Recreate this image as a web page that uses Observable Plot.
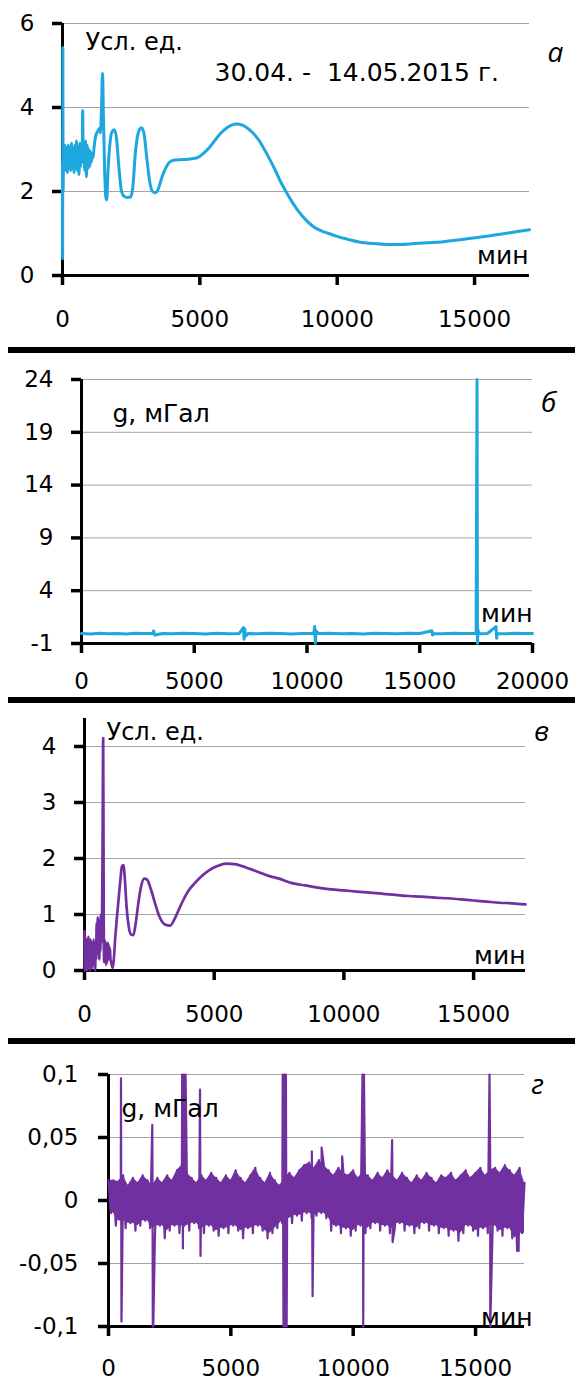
<!DOCTYPE html>
<html><head><meta charset="utf-8">
<script src="https://cdn.jsdelivr.net/npm/d3@7"></script>
<script src="https://cdn.jsdelivr.net/npm/@observablehq/plot@0.6"></script>
<style>
html,body{margin:0;padding:0;background:#fff;}
#root{position:relative;width:575px;height:1380px;overflow:hidden;background:#fff;}
.panel{position:absolute;left:0;top:0;width:575px;}
.sep{position:absolute;left:8px;width:567px;height:6px;background:#000;}
</style></head><body><div id="root"></div>
<script>
// ---------- Panel а : conventional units (blue) ----------
const aMin = [
  0,5,12,22,40,60,90,120,150,180,
  210,240,270,300,330,360,390,420,450,480,
  510,540,570,600,630,660,690,715,735,755,
  780,810,840,870,900,930,960,990,1020,1050,
  1080,1110,1150,1200,1250,1300,1340,1380,1420,1456,
  1490,1530,1580,1610,1650,1720,1800,1880,1960,2050,
  2150,2250,2350,2480,2560,2650,2760,2870,2960,3060,
  3170,3280,3380,3480,3600,3750,3900,4100,4400,4700,
  4950,5150,5350,5550,5750,5950,6150,6350,6550,6750,
  6950,7150,7350,7550,7750,7950,8150,8350,8600,8850,
  9100,9400,9700,10000,10400,10800,11300,11800,12300,12800,
  13300,13800,14300,14800,15300,15800,16300,16700,17000];
const aVal = [
  2.7,0.4,5.43,2.0,3.1,2.6,3.1,2.5,3.05,2.45,
  3.1,2.7,3.0,2.5,3.15,2.55,3.0,2.45,3.1,2.6,
  3.2,2.5,3.05,2.4,3.15,2.6,3.1,2.7,3.93,2.8,
  3.1,2.5,3.2,2.35,3.1,2.55,3.0,2.6,2.95,2.7,
  2.9,2.8,3.05,3.3,3.4,3.45,3.5,3.4,4.0,4.81,
  3.8,2.6,1.85,1.8,2.4,3.1,3.42,3.47,3.3,2.6,
  2.0,1.88,1.86,1.87,2.1,2.9,3.4,3.52,3.4,2.85,
  2.25,2.0,1.97,2.05,2.3,2.55,2.7,2.75,2.76,2.78,
  2.82,2.92,3.05,3.22,3.38,3.5,3.58,3.61,3.58,3.5,
  3.38,3.22,3.0,2.76,2.5,2.22,1.98,1.76,1.52,1.33,
  1.18,1.07,1.0,0.93,0.86,0.8,0.76,0.74,0.74,0.76,
  0.78,0.8,0.84,0.88,0.92,0.97,1.02,1.06,1.09];
const aXTicks = [0,5000,10000,15000];
const aYTicks = [0,2,4,6];

// ---------- Panel б : g, mGal (blue) ----------
const bMin = [
  0,400,800,1200,1600,2000,2400,2800,3150,3200,
  3250,3600,4000,4500,5000,5500,6000,6500,7000,7180,
  7210,7240,7270,7400,7800,8300,8800,9300,9800,10300,
  10340,10370,10400,10500,11000,11500,12000,12500,13000,13500,
  14000,14500,15000,15540,15570,15600,16000,16500,17000,17500,
  17540,17560,17580,17620,17700,18000,18380,18410,18440,18800,
  19200,19600,20000];
const bVal = [
  -0.05,-0.1,-0.02,-0.08,-0.05,-0.1,-0.03,-0.06,-0.05,0.2,
  -0.2,-0.05,-0.08,-0.03,-0.06,-0.1,-0.04,-0.07,-0.05,0.5,
  -0.6,0.4,-0.3,-0.05,-0.08,-0.03,-0.06,-0.1,-0.05,-0.05,
  0.6,-1.0,0.2,-0.06,-0.04,-0.08,-0.05,-0.1,-0.03,-0.06,
  -0.08,-0.04,-0.05,0.2,-0.2,-0.05,-0.07,-0.04,-0.06,-0.05,
  24,-1.0,0.3,-0.05,-0.08,-0.05,0.6,-0.5,-0.05,-0.08,
  -0.04,-0.06,-0.05];
const bXTicks = [0,5000,10000,15000,20000];
const bYTicks = [-1,4,9,14,19,24];

// ---------- Panel в : conventional units (purple) ----------
const cMin = [
  0,15,30,50,70,90,110,130,150,170,
  190,210,230,250,270,290,310,330,350,370,
  390,410,430,450,470,490,510,530,550,570,
  590,610,630,650,680,700,720,735,745,760,
  780,800,820,840,860,880,900,920,940,960,
  980,1000,1030,1060,1090,1130,1180,1240,1300,1380,
  1440,1500,1560,1620,1700,1800,1880,1960,2060,2180,
  2300,2420,2560,2720,2900,3100,3300,3450,3600,3800,
  4000,4250,4500,4800,5100,5450,5800,6100,6400,6700,
  7100,7500,8000,8500,9000,9500,10000,10500,11000,11500,
  12000,12500,13000,13500,14000,14500,15000,15500,16000,16500,
  17000];
const cVal = [
  0.7,0.0,0.6,0.1,0.55,0.0,0.5,0.05,0.6,0.1,
  0.45,0.0,0.55,0.15,0.5,0.05,0.45,0.2,0.55,0.1,
  0.4,0.0,0.5,0.2,0.85,0.3,0.95,0.4,0.8,0.2,
  0.9,0.35,1.0,0.5,1.1,2.5,4.15,2.0,0.4,0.15,
  0.55,0.2,0.5,0.1,0.45,0.15,0.5,0.2,0.45,0.25,
  0.4,0.2,0.15,0.08,0.05,0.2,0.55,0.9,1.2,1.6,
  1.85,1.88,1.6,1.15,0.8,0.64,0.63,0.8,1.15,1.5,
  1.64,1.62,1.45,1.2,0.95,0.82,0.8,0.9,1.05,1.25,
  1.42,1.56,1.68,1.79,1.86,1.91,1.9,1.86,1.81,1.76,
  1.69,1.64,1.56,1.52,1.48,1.45,1.43,1.41,1.39,1.37,
  1.35,1.33,1.32,1.30,1.29,1.27,1.25,1.23,1.21,1.2,
  1.18];
const cXTicks = [0,5000,10000,15000];
const cYTicks = [0,1,2,3,4];

// ---------- Panel г : g, mGal (purple) ----------
// upper envelope read every 200 min (0..17000), lower envelope 100 min later
const dStep = 200;
const dUpper = [
  0.016,0.016,0.015,0.02,0.012,0.018,0.014,0.02,0.016,0.012,
  0.018,0.014,0.02,0.016,0.024,0.028,0.022,0.018,0.014,0.02,
  0.016,0.022,0.018,0.014,0.02,0.016,0.024,0.018,0.014,0.02,
  0.026,0.018,0.014,0.022,0.016,0.012,0.018,0.022,0.018,0.024,
  0.028,0.03,0.026,0.032,0.028,0.024,0.02,0.026,0.022,0.02,
  0.024,0.018,0.022,0.02,0.016,0.022,0.018,0.024,0.02,0.016,
  0.022,0.018,0.014,0.02,0.016,0.022,0.018,0.014,0.02,0.018,
  0.022,0.016,0.02,0.024,0.018,0.022,0.026,0.02,0.024,0.026,
  0.022,0.028,0.024,0.02,0.026,0.014];
const dLower = [
  -0.01,-0.02,-0.016,-0.022,-0.018,-0.024,-0.02,-0.016,-0.022,-0.026,
  -0.02,-0.03,-0.024,-0.02,-0.026,-0.02,-0.024,-0.018,-0.022,-0.026,
  -0.02,-0.024,-0.028,-0.022,-0.026,-0.02,-0.024,-0.03,-0.022,-0.026,
  -0.02,-0.024,-0.03,-0.026,-0.022,-0.018,-0.014,-0.018,-0.012,-0.016,
  -0.01,-0.014,-0.012,-0.01,-0.014,-0.024,-0.02,-0.026,-0.022,-0.028,
  -0.024,-0.02,-0.026,-0.022,-0.018,-0.024,-0.02,-0.026,-0.022,-0.018,
  -0.024,-0.02,-0.026,-0.022,-0.018,-0.024,-0.02,-0.026,-0.022,-0.028,
  -0.024,-0.032,-0.026,-0.02,-0.024,-0.028,-0.022,-0.026,-0.02,-0.024,
  -0.028,-0.022,-0.03,-0.04,-0.026];
const dSpikeMin = [510,530,1790,1810,1830,3010,3040,3080,3110,3150,
  3740,3760,7120,7150,7180,7210,7250,7280,8310,8340,
  8710,9550,10380,10410,10440,11590,11610,15570,15600,16760];
const dSpikeVal = [0.097,-0.096,0.06,-0.1,-0.1,0.1,-0.038,0.1,0.0,0.1,
  0.088,-0.044,0.1,-0.1,0.1,-0.1,0.1,-0.1,0.039,-0.076,
  0.042,0.035,0.1,-0.1,0.1,0.048,-0.033,0.1,-0.1,-0.04];
const dXTicks = [0,5000,10000,15000];
const dYTicks = [-0.1,-0.05,0,0.05,0.1];

// ---------- build ----------
const FONT = "DejaVu Sans";
const BLUE = "#1ea6df", PURPLE = "#7030a0";
const pairs = (ts, vs) => ts.map((t, i) => ({t, v: vs[i]}));
const aData = pairs(aMin, aVal);
const bData = pairs(bMin, bVal);
const cData = pairs(cMin, cVal);
const dData = [];
const dBand = [];
dUpper.forEach((v, i) => {
  dData.push({t: i * dStep, v});
  if (i < dLower.length) dData.push({t: i * dStep + dStep / 2, v: dLower[i]});
  const lo = dLower[Math.min(i, dLower.length - 1)];
  const loPrev = dLower[Math.max(i - 1, 0)];
  dBand.push({t: i * dStep, lo: Math.max(lo, loPrev), hi: v});
});
dSpikeMin.forEach((t, i) => dData.push({t, v: dSpikeVal[i]}));
dData.sort((p, q) => p.t - q.t);

const comma = d => String(d).replace(".", ",");
const plain = d => String(d);

function makePanel(c) {
  const TICK = 10;
  const marks = [
    Plot.gridY({ticks: c.yTicks, stroke: "#a3a3a3", strokeOpacity: 1, strokeWidth: 1}),
    ...(c.band ? [Plot.areaY(c.band, {x: "t", y1: "lo", y2: "hi", fill: c.color, curve: "linear"})] : []),
    Plot.ruleX([c.xDomain[0]], {stroke: "black", strokeWidth: 3}),
    Plot.ruleY([c.yDomain[0]], {stroke: "black", strokeWidth: 3}),
    Plot.axisY({ticks: c.yTicks, tickSize: TICK, tickPadding: c.yPad, label: null,
      stroke: "black", strokeWidth: 3.5, fontSize: 23, tickFormat: c.yFmt || plain}),
    Plot.axisX({ticks: c.xTicks, tickSize: TICK, tickPadding: c.xPad, label: null,
      stroke: "black", strokeWidth: 3.5, fontSize: 23, tickFormat: plain}),
    Plot.line(c.data, {x: "t", y: "v", stroke: c.color, strokeWidth: c.sw, curve: c.curve}),
    ...c.texts.map(tx => Plot.text([tx.s], {text: d => d, frameAnchor: tx.anchor, dx: tx.dx, dy: tx.dy,
      textAnchor: tx.ta, lineAnchor: "middle", fontSize: tx.fs, fontStyle: tx.it ? "italic" : "normal",
      fontFamily: tx.it ? "Open Sans" : FONT, fill: "black"}))
  ];
  const svg = Plot.plot({
    width: 575, height: c.height,
    marginTop: c.mt, marginBottom: c.mb, marginLeft: c.ml, marginRight: c.mr,
    x: {domain: c.xDomain, label: null}, y: {domain: c.yDomain, label: null},
    style: {fontFamily: FONT, color: "black"},
    marks
  });
  const div = document.createElement("div");
  div.className = "panel";
  div.style.top = c.top + "px";
  div.appendChild(svg);
  document.getElementById("root").appendChild(div);
}

makePanel({top: 0, height: 347, mt: 23, mb: 72, ml: 62, mr: 46,
  xDomain: [0, 17000], yDomain: [0, 6], xTicks: aXTicks, yTicks: aYTicks,
  yPad: 18, xPad: 25, data: aData, color: BLUE, sw: 3, curve: "monotone-x",
  texts: [
    {s: "Усл. ед.", anchor: "top-left", dx: 23, dy: 19, ta: "start", fs: 24},
    {s: "30.04. -\u00a0 14.05.2015 г.", anchor: "top-left", dx: 152, dy: 49, ta: "start", fs: 25},
    {s: "а", anchor: "top-right", dx: 26, dy: 30, ta: "middle", fs: 28, it: true},
    {s: "мин", anchor: "bottom-right", dx: -1, dy: -20, ta: "end", fs: 25}
  ]});

makePanel({top: 353, height: 344, mt: 26, mb: 54, ml: 81, mr: 43,
  xDomain: [0, 20000], yDomain: [-1, 24], xTicks: bXTicks, yTicks: bYTicks,
  yPad: 18, xPad: 19, data: bData, color: BLUE, sw: 3, curve: "linear",
  texts: [
    {s: "g, мГал", anchor: "top-left", dx: 31, dy: 34, ta: "start", fs: 25},
    {s: "б", anchor: "top-right", dx: 16, dy: 24, ta: "middle", fs: 28, it: true},
    {s: "мин", anchor: "bottom-right", dx: 0, dy: -30, ta: "end", fs: 25}
  ]});

makePanel({top: 703, height: 335, mt: 15, mb: 68, ml: 84, mr: 50,
  xDomain: [0, 17000], yDomain: [0, 4.5], xTicks: cXTicks, yTicks: cYTicks,
  yPad: 18, xPad: 25, data: cData, color: PURPLE, sw: 2.7, curve: "monotone-x",
  texts: [
    {s: "Усл. ед.", anchor: "top-left", dx: 22, dy: 14, ta: "start", fs: 24},
    {s: "в", anchor: "top-right", dx: 16, dy: 14, ta: "middle", fs: 28, it: true},
    {s: "мин", anchor: "bottom-right", dx: 0, dy: -15, ta: "end", fs: 25}
  ]});

makePanel({top: 1044, height: 336, mt: 30, mb: 54, ml: 108, mr: 51,
  xDomain: [0, 17000], yDomain: [-0.1, 0.1], xTicks: dXTicks, yTicks: dYTicks,
  yPad: 20, xPad: 23, yFmt: comma, data: dData, band: dBand, color: PURPLE, sw: 2.2, curve: "linear",
  texts: [
    {s: "g, мГал", anchor: "top-left", dx: 13, dy: 34, ta: "start", fs: 25},
    {s: "г", anchor: "top-right", dx: 13, dy: 11, ta: "middle", fs: 28, it: true},
    {s: "мин", anchor: "bottom-right", dx: 8, dy: -9, ta: "end", fs: 25}
  ]});

for (const top of [347, 697, 1038]) {
  const s = document.createElement("div");
  s.className = "sep";
  s.style.top = top + "px";
  document.getElementById("root").appendChild(s);
}
</script>
</body></html>
